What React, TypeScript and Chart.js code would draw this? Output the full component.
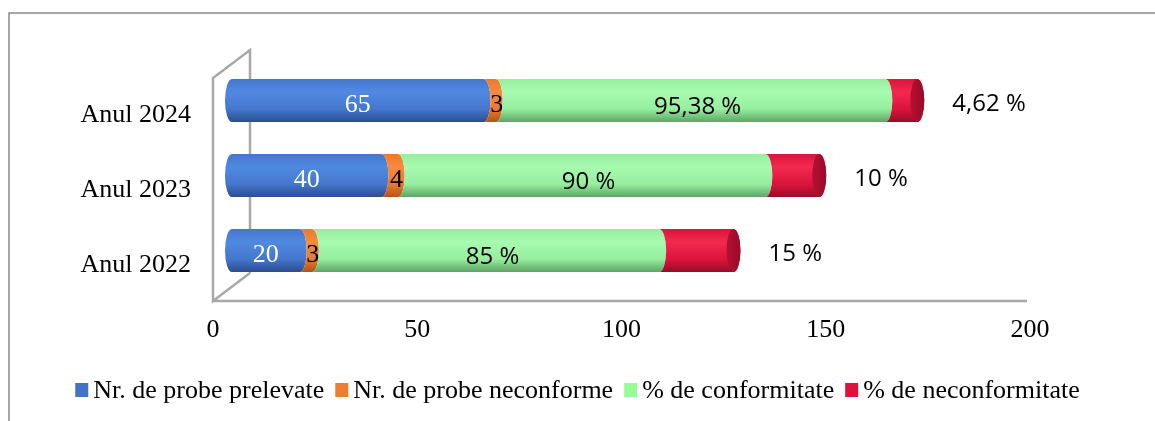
import { useEffect, useRef } from 'react';
import { Chart, registerables } from 'chart.js';

Chart.register(...registerables);

// ---- data ----
const years = ['Anul 2022', 'Anul 2023', 'Anul 2024'];
const probePrelevate = [20, 40, 65];
const probeNeconforme = [3, 4, 3];
const pctConformitate = [85, 90, 95.38];
const pctNeconformitate = [15, 10, 4.62];
const seriesNames = [
  'Nr. de probe prelevate',
  'Nr. de probe neconforme',
  '% de conformitate',
  '% de neconformitate',
];
const xTicks = [0, 50, 100, 150, 200];

// ---- styles ----
const W = 1155;
const H = 421;
const SERIF = '"Liberation Serif", "Times New Roman", serif';
const SANS = '"Open Sans", "Noto Sans", sans-serif';
const shades = [
  { light: '#5089e2', mid: '#4577cc', dark: '#2b4d8f', legend: '#4472C4', face: '#3a66b4' },
  { light: '#f88b40', mid: '#e97a2e', dark: '#b0561a', legend: '#ED7D31', face: '#d06a24' },
  { light: '#a8fbb0', mid: '#96ee9e', dark: '#5ea565', legend: '#98FB98', face: '#7fd688' },
  { light: '#f22a4f', mid: '#dc143c', dark: '#980c28', legend: '#DC143C', face: '#b80f31' },
];
const RX = 7;

const fmtPct = (v: number) => String(v).replace('.', ',') + ' %';

const chromePlugin = {
  id: 'chrome',
  beforeDraw(chart: any) {
    const ctx = chart.ctx;
    ctx.save();
    ctx.fillStyle = '#ffffff';
    ctx.fillRect(0, 0, chart.width, chart.height);
    ctx.strokeStyle = '#8c8c8c';
    ctx.lineWidth = 1.5;
    ctx.beginPath();
    ctx.moveTo(9, chart.height);
    ctx.lineTo(9, 13);
    ctx.lineTo(chart.width, 13);
    ctx.stroke();
    ctx.restore();
  },
  beforeDatasetsDraw(chart: any) {
    const { left, right, top, bottom } = chart.chartArea;
    const ctx = chart.ctx;
    const fx = left - 12;
    const bx = left + 25;
    ctx.save();
    ctx.strokeStyle = '#a8a8a8';
    ctx.lineWidth = 2.5;
    ctx.lineJoin = 'miter';
    ctx.beginPath();
    ctx.moveTo(bx, bottom - 15);
    ctx.lineTo(bx, top - 13);
    ctx.lineTo(fx, top + 15);
    ctx.lineTo(fx, bottom + 13);
    ctx.lineTo(bx, bottom - 15);
    ctx.moveTo(fx, bottom + 13);
    ctx.lineTo(right - 15, bottom + 13);
    ctx.stroke();
    ctx.restore();
  },
  afterDatasetsDraw(chart: any) {
    const ctx = chart.ctx;
    const n = chart.data.labels.length;
    const nd = chart.data.datasets.length;
    for (let j = 0; j < n; j++) {
      for (let i = 0; i < nd; i++) {
        const el = chart.getDatasetMeta(i).data[j];
        const { x, y, base, height } = el.getProps(['x', 'y', 'base', 'height'], true);
        const s = Math.min(x, base);
        const e = Math.max(x, base);
        const t = y - height / 2;
        const b = y + height / 2;
        const ry = height / 2;
        const sh = shades[i];
        const last = i === nd - 1;
        const g = ctx.createLinearGradient(0, t, 0, b);
        g.addColorStop(0, sh.mid);
        g.addColorStop(0.3, sh.light);
        g.addColorStop(0.7, sh.mid);
        g.addColorStop(1, sh.dark);
        ctx.save();
        ctx.fillStyle = g;
        ctx.beginPath();
        const ce = last ? e + RX - 1 : e - RX;
        if (i === 0) {
          const cs = s + RX;
          ctx.moveTo(cs, t);
          ctx.lineTo(ce, t);
          ctx.ellipse(ce, y, RX, ry, 0, -Math.PI / 2, Math.PI / 2, false);
          ctx.lineTo(cs, b);
          ctx.ellipse(cs, y, RX, ry, 0, Math.PI / 2, (3 * Math.PI) / 2, false);
        } else {
          const cs = s - RX;
          ctx.moveTo(cs, t);
          ctx.lineTo(ce, t);
          ctx.ellipse(ce, y, RX, ry, 0, -Math.PI / 2, Math.PI / 2, false);
          ctx.lineTo(cs, b);
          ctx.ellipse(cs, y, RX, ry, 0, Math.PI / 2, -Math.PI / 2, true);
        }
        ctx.closePath();
        ctx.fill();
        if (last) {
          const fg = ctx.createLinearGradient(ce - RX, 0, ce + RX, 0);
          fg.addColorStop(0, sh.face);
          fg.addColorStop(1, sh.dark);
          ctx.fillStyle = fg;
          ctx.beginPath();
          ctx.ellipse(ce, y, RX, ry, 0, 0, Math.PI * 2);
          ctx.fill();
        }
        ctx.restore();

        // labels
        const v = chart.data.datasets[i].data[j];
        ctx.save();
        ctx.textBaseline = 'middle';
        if (i === 0) {
          ctx.font = `26px ${SERIF}`;
          ctx.fillStyle = '#ffffff';
          ctx.textAlign = 'center';
          ctx.fillText(String(v), (s + e) / 2, y + 5);
        } else if (i === 1) {
          ctx.font = `26px ${SERIF}`;
          ctx.fillStyle = '#000000';
          ctx.textAlign = 'center';
          ctx.fillText(String(v), (s + e) / 2, y + 5);
        } else if (i === 2) {
          ctx.font = `24px ${SANS}`;
          ctx.fillStyle = '#000000';
          ctx.textAlign = 'center';
          ctx.fillText(fmtPct(v), (s + e) / 2, y + 7);
        } else {
          ctx.font = `24px ${SANS}`;
          ctx.fillStyle = '#000000';
          ctx.textAlign = 'left';
          ctx.fillText(fmtPct(v), e + 41, y + 4);
        }
        ctx.restore();
      }
    }
  },
  afterDraw(chart: any) {
    const ctx = chart.ctx;
    ctx.save();
    ctx.font = `26px ${SERIF}`;
    ctx.textBaseline = 'middle';
    ctx.textAlign = 'left';
    const box = 13;
    const gapText = 5;
    const gapItem = 11;
    const names = chart.data.datasets.map((d: any) => d.label);
    const widths = names.map((nm: string) => ctx.measureText(nm).width);
    const total =
      widths.reduce((a: number, w: number) => a + box + gapText + w, 0) + gapItem * (names.length - 1);
    let x = (chart.width - total) / 2;
    const cy = 390;
    names.forEach((nm: string, i: number) => {
      ctx.fillStyle = shades[i].legend;
      ctx.fillRect(x, cy - 7, box, 14);
      x += box + gapText;
      ctx.fillStyle = '#000000';
      ctx.fillText(nm, x, cy + 1);
      x += widths[i] + gapItem;
    });
    ctx.restore();
  },
};

export default function App() {
  const ref = useRef<HTMLCanvasElement | null>(null);
  useEffect(() => {
    if (!ref.current) return;
    const series = [probePrelevate, probeNeconforme, pctConformitate, pctNeconformitate];
    const chart = new Chart(ref.current, {
      type: 'bar',
      data: {
        labels: years,
        datasets: series.map((d, i) => ({
          label: seriesNames[i],
          data: d,
          backgroundColor: 'rgba(0,0,0,0)',
          borderWidth: 0,
          barPercentage: 0.573,
          categoryPercentage: 1,
        })),
      },
      options: {
        indexAxis: 'y',
        animation: false,
        responsive: false,
        devicePixelRatio: 1,
        layout: { padding: { left: 0, top: 63, right: W - 1042, bottom: H - 288 - 60 } },
        plugins: { legend: { display: false }, tooltip: { enabled: false } },
        scales: {
          x: {
            stacked: true,
            min: xTicks[0],
            max: xTicks[xTicks.length - 1],
            afterBuildTicks: (s: any) => {
              s.ticks = xTicks.map((v) => ({ value: v }));
            },
            afterFit: (s: any) => {
              s.height = 60;
            },
            grid: { display: false, drawTicks: false },
            border: { display: false },
            ticks: {
              padding: 27,
              labelOffset: -12,
              color: '#000000',
              font: { family: SERIF, size: 26 },
              maxRotation: 0,
            },
          },
          y: {
            stacked: true,
            reverse: true,
            afterFit: (s: any) => {
              s.width = 225;
            },
            grid: { display: false, drawTicks: false },
            border: { display: false },
            ticks: {
              padding: 34,
              labelOffset: 15,
              color: '#000000',
              font: { family: SERIF, size: 26 },
            },
          },
        },
      },
      plugins: [chromePlugin],
    });
    return () => chart.destroy();
  }, []);
  return (
    <div style={{ position: 'absolute', left: 0, top: 0, width: W, height: H }}>
      <canvas ref={ref} width={W} height={H} style={{ display: 'block', width: W, height: H }} />
    </div>
  );
}
